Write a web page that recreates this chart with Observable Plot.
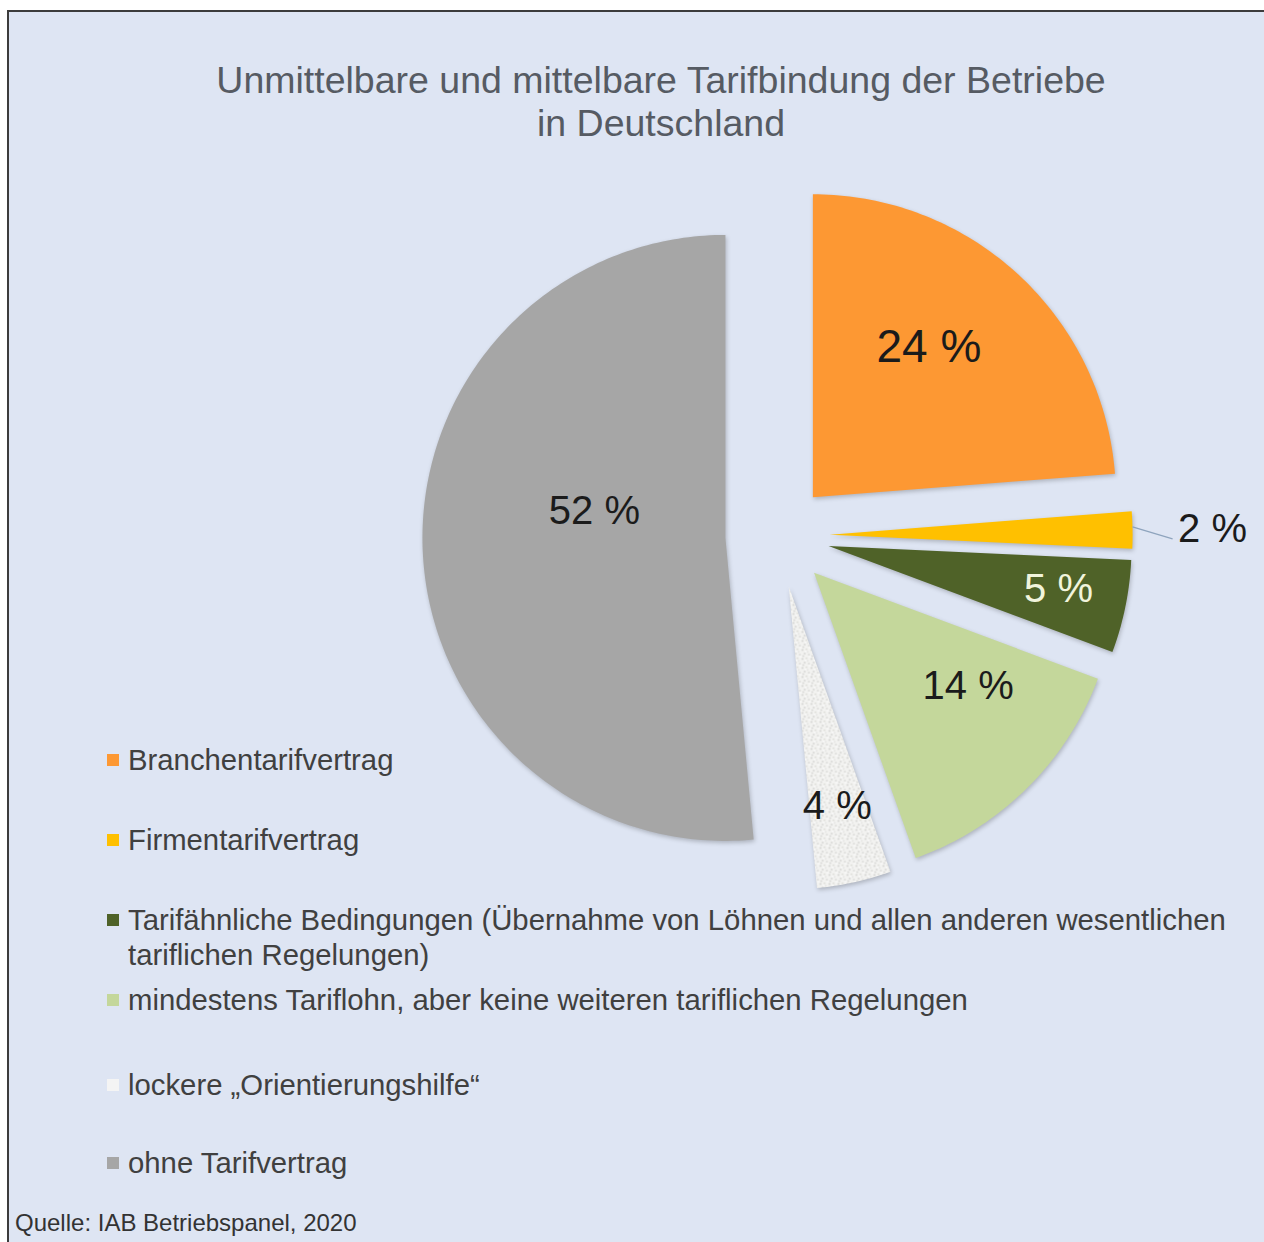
<!DOCTYPE html>
<html><head><meta charset="utf-8">
<script src="https://cdn.jsdelivr.net/npm/d3@7"></script>
<script src="https://cdn.jsdelivr.net/npm/@observablehq/plot@0.6"></script>
<style>
html,body{margin:0;padding:0;background:#fff;}
#page{position:relative;width:1264px;height:1242px;overflow:hidden;font-family:"Liberation Sans",Arial,sans-serif;}
#panel{position:absolute;left:7px;top:10px;right:0;bottom:0;background:#dee5f3;border-left:2px solid #3c3c3c;border-top:2px solid #3c3c3c;}
#title{height:150px;box-sizing:border-box;padding-top:47px;margin-left:49px;text-align:center;font-size:37.5px;line-height:43px;color:#565b63;}
#chart svg{display:block;}
#chart svg g[aria-label="line"] path{filter:drop-shadow(1.5px 2px 2px rgba(0,0,0,.22));}
.item{position:absolute;left:98px;font-size:29.3px;line-height:35px;color:#404040;width:1150px;}
.item .sw{position:absolute;left:0;top:12px;width:12px;height:12px;}
.item .tx{display:block;padding-left:21px;}
#caption{padding-left:6px;padding-top:6px;font-size:24px;line-height:30px;color:#333;}
</style>
</head><body>
<div id="page"><div id="panel">
<div id="title">Unmittelbare und mittelbare Tarifbindung der Betriebe<br>in Deutschland</div>
<div id="chart"></div>
<div id="caption">Quelle: IAB Betriebspanel, 2020</div>
<div id="legend"></div>
</div></div>
<script>
// ---- data ----
const categories = [
  "Branchentarifvertrag",
  "Firmentarifvertrag",
  "Tarifähnliche Bedingungen (Übernahme von Löhnen und allen anderen wesentlichen tariflichen Regelungen)",
  "mindestens Tariflohn, aber keine weiteren tariflichen Regelungen",
  "lockere „Orientierungshilfe“",
  "ohne Tarifvertrag"
];
const shares = [24, 2, 5, 14, 4, 52];
const labels = ["24 %", "2 %", "5 %", "14 %", "4 %", "52 %"];

// ---- styles / layout ----
const sliceFill = ["#fd9833", "#ffc000", "#4f6228", "#c4d79b", "url(#speck)", "#a6a6a6"];
const swatch = ["#fd9833", "#ffc000", "#4f6228", "#c4d79b", "#f4f4f4", "#a6a6a6"];
const labelColor = ["#1b1b1b", "#1b1b1b", "#f1f4dc", "#1b1b1b", "#1b1b1b", "#1b1b1b"];
const labelSize = [46, 40, 40, 40, 40, 40];
const labelRadius = [0.625, 1.264, 0.772, 0.632, 0.742, 0.441];
const labelAngleShift = [-5, 0, -1, -9, 0, 14];
const legendTop = [730, 810, 890, 970, 1055, 1133];
const explode = 0.172;
const R = 303; // px per radius unit
const W = 1255, H = 1040;
const cx = 777 - 9, cy = 535 - 162; // pie centre inside the svg (px)

const deg = Math.PI / 180;
const arcs = d3.pie().sort(null).value(d => d)(shares);

const slicePts = [];
const labelData = [];
arcs.forEach((a, i) => {
  const mid = (a.startAngle + a.endAngle) / 2;
  const ox = explode * Math.sin(mid), oy = -explode * Math.cos(mid);
  const cat = categories[i];
  slicePts.push({cat, fill: sliceFill[i], x: ox, y: oy});
  const n = Math.max(4, Math.ceil((a.endAngle - a.startAngle) / deg));
  for (let k = 0; k <= n; k++) {
    const t = a.startAngle + (a.endAngle - a.startAngle) * k / n;
    slicePts.push({cat, fill: sliceFill[i], x: ox + Math.sin(t), y: oy - Math.cos(t)});
  }
  slicePts.push({cat, fill: sliceFill[i], x: ox, y: oy});
  const la = mid + labelAngleShift[i] * deg;
  labelData.push({
    text: labels[i], color: labelColor[i], size: labelSize[i],
    x: ox + labelRadius[i] * Math.sin(la), y: oy - labelRadius[i] * Math.cos(la)
  });
});

// leader line of the small "2 %" slice
const a1 = arcs[1], m1 = (a1.startAngle + a1.endAngle) / 2;
const o1x = explode * Math.sin(m1), o1y = -explode * Math.cos(m1);
const leader = [{
  x1: o1x + Math.sin(m1 - 0.6 * deg), y1: o1y - Math.cos(m1 - 0.6 * deg),
  x2: o1x + 1.132 * Math.sin(m1 + 1.6 * deg), y2: o1y - 1.132 * Math.cos(m1 + 1.6 * deg)
}];

const svg = Plot.plot({
  width: W, height: H, margin: 0,
  style: {background: "transparent", fontFamily: "'Liberation Sans', Arial, sans-serif"},
  x: {domain: [-cx / R, (W - cx) / R], range: [0, W], axis: null},
  y: {domain: [-cy / R, (H - cy) / R], range: [0, H], axis: null},
  color: {type: "identity"},
  marks: [
    Plot.line(slicePts, {x: "x", y: "y", z: "cat", fill: "fill", stroke: "none", curve: "linear"}),
    Plot.link(leader, {x1: "x1", y1: "y1", x2: "x2", y2: "y2", stroke: "#8ea4bd", strokeWidth: 1.2}),
    Plot.text(labelData, {x: "x", y: "y", text: "text", fill: "color", fontSize: "size", textAnchor: "middle", lineAnchor: "middle"})
  ]
});

// speckled texture for the "lockere Orientierungshilfe" slice
const defs = d3.select(svg).insert("defs", ":first-child");
const pat = defs.append("pattern").attr("id", "speck").attr("patternUnits", "userSpaceOnUse")
  .attr("width", 9).attr("height", 9);
pat.append("rect").attr("width", 9).attr("height", 9).attr("fill", "#f2f2f0");
[[1, 1.5, "#d2d2d0"], [5, 0.8, "#dcdcd8"], [3.2, 5.1, "#cfcfcd"], [7.4, 6.2, "#d8d8d6"], [6.1, 3.3, "#e2e2e0"], [1.8, 7.6, "#d5d5d3"], [8.2, 8.4, "#fafafa"], [4.4, 2.9, "#fbfbfb"]]
  .forEach(([px, py, c]) => pat.append("circle").attr("cx", px).attr("cy", py).attr("r", 0.9).attr("fill", c));

document.getElementById("chart").appendChild(svg);

// legend
const leg = document.getElementById("legend");
categories.forEach((c, i) => {
  const d = document.createElement("div");
  d.className = "item";
  d.style.top = legendTop[i] + "px";
  d.innerHTML = `<span class="sw" style="background:${swatch[i]}"></span><span class="tx"></span>`;
  d.querySelector(".tx").textContent = c;
  leg.appendChild(d);
});
</script>
</body></html>
